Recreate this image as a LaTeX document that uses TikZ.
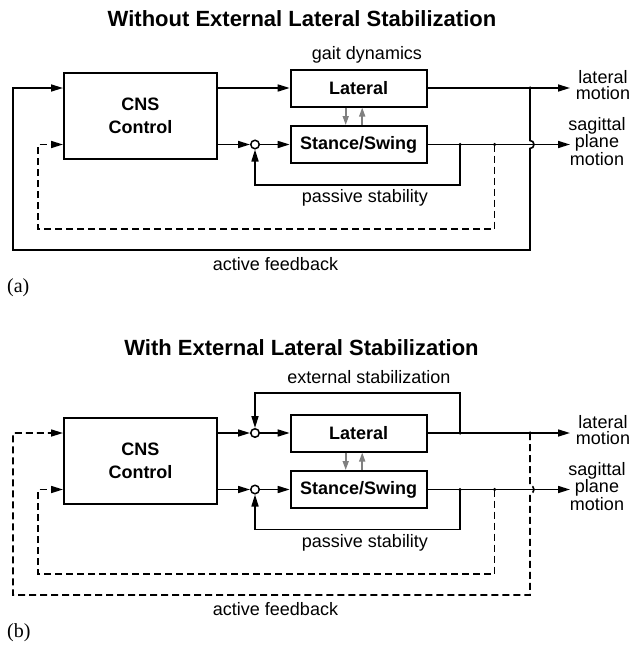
\documentclass[tikz,border=0pt]{standalone}
\usepackage{fontspec}
\setmainfont{Liberation Serif}
\setsansfont{Liberation Sans}
\usetikzlibrary{arrows.meta,positioning}

\begin{document}
\begin{tikzpicture}[x=1pt,y=-1pt]
\tikzstyle{blk}=[draw, line width=2pt, inner sep=0pt, align=center, font=\sffamily\bfseries\fontsize{18}{23}\selectfont]
\tikzstyle{lbl}=[inner sep=0pt, align=center, font=\sffamily\fontsize{18}{16}\selectfont]
\tikzstyle{outlbl}=[inner sep=0pt, align=center, font=\sffamily\fontsize{18}{13.5}\selectfont]
\tikzstyle{ttl}=[inner sep=0pt, anchor=base, font=\sffamily\bfseries\fontsize{22}{24}\selectfont]
\tikzstyle{tag}=[inner sep=0pt, anchor=base west, font=\fontsize{20}{24}\selectfont]
\tikzstyle{sum}=[draw, circle, line width=1.5pt, minimum size=8.5pt, inner sep=0pt]
\tikzstyle{jn}=[circle, fill, inner sep=0pt, minimum size=3.5pt]
\tikzstyle{sig}=[line width=1.6pt, -{Triangle[length=12pt,width=7pt]}]
\tikzstyle{fb}=[line width=1.6pt, dash pattern=on 7pt off 4pt, -{Triangle[length=12pt,width=7pt]}]
\tikzstyle{couple}=[line width=1.6pt, color=gray, -{Triangle[length=9pt,width=6pt]}]

\useasboundingbox (0,0) rectangle (630,645);

% (a) without external stabilization
\node[ttl] (titleA) at (302,27) {Without External Lateral Stabilization};
\node[blk, minimum width=153pt, minimum height=86pt] (cnsA) at (140.5,116) {CNS\\Control};
\node[blk, minimum width=136pt, minimum height=37pt] (latA) at (358.7,88) {Lateral};
\node[blk, minimum width=136pt, minimum height=37pt] (stA) at (358.7,144.5) {Stance/Swing};
\node[sum] (sumA) at (255,144.5) {};
\node[lbl, anchor=base] (gaitA) at (367,59) {gait dynamics};
\node[lbl, anchor=base] (passA) at (365,202) {passive stability};
\node[lbl, anchor=base] (actA) at (275.5,270.5) {active feedback};
\node[tag] (labA) at (7,292) {(a)};
\node[lbl] (latmotA) at (603,85.5) {lateral\\motion};
\node[outlbl] (sagmotA) at (597,141.5) {sagittal\\plane\\motion};

\coordinate (outA1) at (570,88);
\coordinate (outA2) at (570,144.5);
\node[jn] (tapA1) at (460,144.5) {};
\node[jn] (tapA2) at (494.5,144.5) {};
\node[jn] (tapA3) at (530,88) {};

\draw[sig] (cnsA.east |- latA) -- (latA.west);
\draw[sig] (cnsA.east |- sumA) -- (sumA.west);
\draw[sig] (sumA.east) -- (stA.west);
\draw[sig] (latA.east) -- (outA1);
\draw[sig] (stA.east) -- (outA2);
\draw[couple] ([xshift=-13pt]latA.south) -- ([xshift=-13pt]stA.north);
\draw[couple] ([xshift=3.5pt]stA.north) -- ([xshift=3.5pt]latA.south);
\draw[sig] (tapA1.center) -- ++(0,40.5) -| (sumA.south);
\draw[fb] (tapA2.center) -- ++(0,84.5) -| (38,144.5) -- (cnsA.west |- sumA);
\draw[sig] (tapA3.center) -- (530,140.5) arc[start angle=90, end angle=-90, radius=4pt]
  -- (530,250) -| (13,88) -- (cnsA.west |- latA);

% (b) with external stabilization
\node[ttl] (titleB) at (301.5,355) {With External Lateral Stabilization};
\node[blk, minimum width=153pt, minimum height=86pt] (cnsB) at (140.5,461) {CNS\\Control};
\node[blk, minimum width=136pt, minimum height=37pt] (latB) at (358.7,433) {Lateral};
\node[blk, minimum width=136pt, minimum height=37pt] (stB) at (358.7,489.5) {Stance/Swing};
\node[sum] (sumB1) at (255,433) {};
\node[sum] (sumB2) at (255,489.5) {};
\node[lbl, anchor=base] (extB) at (369,383) {external stabilization};
\node[lbl, anchor=base] (passB) at (365,547) {passive stability};
\node[lbl, anchor=base] (actB) at (275.5,615.5) {active feedback};
\node[tag] (labB) at (7,637) {(b)};
\node[lbl] (latmotB) at (603,430.5) {lateral\\motion};
\node[outlbl] (sagmotB) at (597,486.5) {sagittal\\plane\\motion};

\coordinate (outB1) at (570,433);
\coordinate (outB2) at (570,489.5);
\node[jn] (tapB1) at (460,433) {};
\node[jn] (tapB2) at (530,433) {};
\node[jn] (tapB3) at (460,489.5) {};
\node[jn] (tapB4) at (494.5,489.5) {};

\draw[sig] (cnsB.east |- sumB1) -- (sumB1.west);
\draw[sig] (sumB1.east) -- (latB.west);
\draw[sig] (cnsB.east |- sumB2) -- (sumB2.west);
\draw[sig] (sumB2.east) -- (stB.west);
\draw[sig] (latB.east) -- (outB1);
\draw[sig] (stB.east) -- (outB2);
\draw[couple] ([xshift=-13pt]latB.south) -- ([xshift=-13pt]stB.north);
\draw[couple] ([xshift=3.5pt]stB.north) -- ([xshift=3.5pt]latB.south);
\draw[sig] (tapB1.center) -- ++(0,-40) -| (sumB1.north);
\draw[sig] (tapB3.center) -- ++(0,40) -| (sumB2.south);
\draw[fb] (tapB4.center) -- ++(0,84.5) -| (38,489.5) -- (cnsB.west |- sumB2);
\draw[fb] (tapB2.center) -- (530,485.5) arc[start angle=90, end angle=-90, radius=4pt]
  -- (530,595) -| (13,433) -- (cnsB.west |- sumB1);
\end{tikzpicture}
\end{document}
